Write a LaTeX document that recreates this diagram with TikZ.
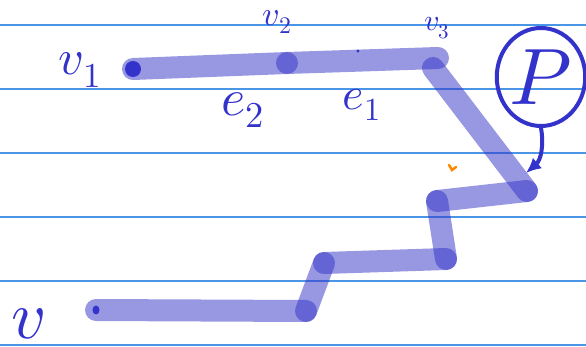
\documentclass[tikz,border=0pt]{standalone}
\usepackage{unicode-math}
\usetikzlibrary{arrows.meta,shapes.geometric}
\definecolor{wlkInk}{HTML}{3333CC}
\definecolor{wlkTrail}{HTML}{3737C7}
\definecolor{wlkRule}{HTML}{4A95E5}
\definecolor{wlkMark}{HTML}{FF8A00}
\tikzset{
  wlk rule/.style={draw=wlkRule, line width=1.3pt},
  wlk trail/.style={draw=wlkTrail, draw opacity=0.52, line width=22pt, line cap=round},
  wlk ink/.style={draw=wlkInk, line width=4pt, line cap=round, line join=round},
  wlk dot/.style={fill=wlkInk},
  wlk label/.style={text=wlkInk, inner sep=0pt},
  wlk ring/.style={ellipse, draw=wlkInk, line width=4pt, minimum width=88pt, minimum height=98pt, inner sep=0pt},
}

\begin{document}
\begin{tikzpicture}[x=1pt,y=-1pt]
  \useasboundingbox (0,0) rectangle (586,347);
  % Ruled lines of the page
  \foreach \y in {25,89,...,345} \draw[wlk rule] (0,\y) -- (586,\y);
  % Corners of the walk
  \coordinate (v1) at (133,69);
  \coordinate (v2) at (287,63);
  \coordinate (v3) at (438,58);
  \coordinate (c3) at (433,68);
  \coordinate (c4) at (527,191);
  \coordinate (c5) at (437,201);
  \coordinate (c6) at (446,259);
  \coordinate (c7) at (324,263);
  \coordinate (c8) at (306,311);
  \coordinate (v) at (96,310);
  % One stroke per edge, so the joints overlap
  \foreach \a/\b in {v1/v2,v2/v3,c3/c4,c4/c5,c5/c6,c6/c7,c7/c8,c8/v}
    \draw[wlk trail] (\a) -- (\b);
  % Ink dots
  \fill[wlk dot] (v1) circle (8);
  \fill[wlk dot] (v) ellipse (3.5 and 4.5);
  \fill[wlk dot] (358,51) circle (1.6);
  % Labels
  \node[wlk label, font=\fontsize{50}{50}\selectfont] (lv1) at (80,70) {$v_1$};
  \node[wlk label, font=\fontsize{34}{34}\selectfont] (lv2) at (277,22) {$v_2$};
  \node[wlk label, font=\fontsize{30}{30}\selectfont] (lv3) at (437,28) {$v_3$};
  \node[wlk label, font=\fontsize{52}{52}\selectfont] (le2) at (243,110) {$e_2$};
  \node[wlk label, font=\fontsize{46}{46}\selectfont] (le1) at (362,105) {$e_1$};
  \node[wlk label, font=\fontsize{68}{68}\selectfont] (lv) at (28,324) {$v$};
  % Circled P pointing at the walk
  \node[wlk ring, font=\fontsize{80}{80}\selectfont, text=wlkInk] (P) at (541,77) {$P$};
  \coordinate (tip) at (526,173);
  \draw[wlk ink, -{Latex[length=15pt,width=14pt]}] (P.south) .. controls (544,145) and (541,160) .. (tip);
  % Stray orange mark
  \draw[draw=wlkMark, line width=2.5pt, line cap=round] (449,165) -- (452,170) -- (456,167);
\end{tikzpicture}
\end{document}
